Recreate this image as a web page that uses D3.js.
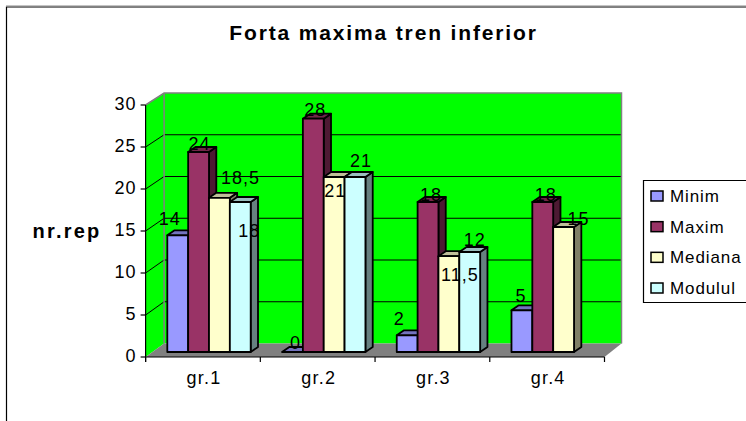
<!DOCTYPE html>
<html><head><meta charset="utf-8">
<script src="https://cdnjs.cloudflare.com/ajax/libs/d3/7.8.5/d3.min.js"></script>
<style>html,body{margin:0;padding:0;background:#fff}svg{display:block}text{font-family:"Liberation Sans",Arial,sans-serif;fill:#000}</style>
</head><body><svg id="c" width="746" height="421"></svg>
<script>
const title = "Forta maxima tren inferior";
const yTitle = "nr.rep";
const categories = ["gr.1", "gr.2", "gr.3", "gr.4"];
const seriesNames = ["Minim", "Maxim", "Mediana", "Modulul"];
const minim = [14, 0, 2, 5];
const maxim = [24, 28, 18, 18];
const mediana = [18.5, 21, 11.5, 15];
const modulul = [18, 21, 12, null];
const yTicks = [0, 5, 10, 15, 20, 25, 30];
const colors = ["#9999ff", "#993366", "#ffffcc", "#ccffff"];
const topColors = ["#7373bf", "#732649", "#bfbf99", "#99bfbf"];
const sideColors = ["#4d4d80", "#4d1a33", "#808066", "#668080"];
// hand-placed label nudges as in the reference, [series][category]
const nudges = [
  [[-8,-10],[3,-3],[-8,-10],[-1,-8]],
  [[1,-2],[2,-3],[3,-1],[3,-1]],
  [[21,-14],[1,20],[11,25],[15,-2]],
  [[9,35],[6,-10],[5,-6],[0,0]]
];
const seriesValues = [minim, maxim, mediana, modulul];

const svg = d3.select("#c");
const frontLeft = 145.6, frontRight = 604.5;
const wallDx = 18.5;
const barDx = 7.3, barDy = -5;

const x = d3.scaleBand().domain(categories).range([frontLeft, frontRight]);
const xs = d3.scaleBand().domain(seriesNames).range([21.7, 105.1]);
const yFront = d3.scaleLinear().domain([0, 30]).range([357, 105]);
const yBack = d3.scaleLinear().domain([0, 30]).range([343.5, 93]);
const yBar = d3.scaleLinear().domain([0, 30]).range([352, 102]);

const poly = pts => pts.map(p => p.join(",")).join(" ");

// chart frame (open on the right and bottom edges where it is cropped)
svg.append("path").attr("d", "M6.5,421V7H746").attr("fill", "none").attr("stroke", "#000").attr("stroke-width", 1.2);
svg.append("line").attr("x1", 6).attr("x2", 746).attr("y1", 6).attr("y2", 6).attr("stroke", "#888").attr("stroke-width", 1);

const bl = frontLeft + wallDx, br = frontRight + wallDx - 1.5;
// walls
svg.append("polygon").attr("fill", "#00ff00").attr("points", poly([[bl, yBack(30)], [br, yBack(30)], [br, yBack(0)], [bl, yBack(0)]]));
svg.append("polygon").attr("fill", "#00ff00").attr("points", poly([[frontLeft, yFront(30)], [bl, yBack(30)], [bl, yBack(0)], [frontLeft, yFront(0)]]));
// floor
svg.append("polygon").attr("fill", "#808080").attr("points", poly([[frontLeft, yFront(0)], [bl, yBack(0)], [br, yBack(0)], [frontRight, yFront(0)]]));
// gridlines
yTicks.filter(v => v > 0 && v < 30).forEach(v => {
  svg.append("line").attr("x1", bl).attr("x2", br).attr("y1", yBack(v)).attr("y2", yBack(v)).attr("stroke", "#000").attr("stroke-width", 1);
  svg.append("line").attr("x1", frontLeft).attr("x2", bl).attr("y1", yFront(v)).attr("y2", yBack(v)).attr("stroke", "#000").attr("stroke-width", 1);
});
// wall edges
svg.append("polyline").attr("fill", "none").attr("stroke", "#808080").attr("stroke-width", 1.5)
  .attr("points", poly([[frontLeft, yFront(30)], [bl, yBack(30)], [br, yBack(30)], [br, yBack(0)]]));
svg.append("line").attr("x1", bl).attr("x2", bl).attr("y1", yBack(30)).attr("y2", yBack(0)).attr("stroke", "#808080").attr("stroke-width", 1.5);

// bars
const barG = svg.append("g").attr("stroke", "#000").attr("stroke-width", 1.8).attr("stroke-linejoin", "round");
categories.forEach((c, ci) => {
  seriesNames.forEach((s, si) => {
    const v = seriesValues[si][ci];
    if (v === null) return;
    const l = x(c) + xs(s), r = l + xs.bandwidth(), t = yBar(v), b = yBar(0);
    barG.append("polygon").attr("fill", sideColors[si]).attr("points", poly([[r, t], [r + barDx, t + barDy], [r + barDx, b + barDy], [r, b]]));
    barG.append("polygon").attr("fill", topColors[si]).attr("points", poly([[l, t], [l + barDx, t + barDy], [r + barDx, t + barDy], [r, t]]));
    if (v > 0) barG.append("rect").attr("x", l).attr("y", t).attr("width", r - l).attr("height", b - t).attr("fill", colors[si]);
  });
});

// axes
const axisG = svg.append("g").attr("stroke", "#000").attr("stroke-width", 1.2);
axisG.append("line").attr("x1", frontLeft).attr("x2", frontLeft).attr("y1", yFront(30)).attr("y2", yFront(0) + 5);
axisG.append("line").attr("x1", frontLeft).attr("x2", frontRight).attr("y1", yFront(0)).attr("y2", yFront(0));
yTicks.forEach(v => {
  axisG.append("line").attr("x1", frontLeft - 5).attr("x2", frontLeft).attr("y1", yFront(v)).attr("y2", yFront(v));
  svg.append("text").attr("x", frontLeft - 9).attr("y", yFront(v) + 5).attr("text-anchor", "end").attr("font-size", 18).attr("letter-spacing", 1).text(v);
});
[...categories.map(c => x(c)), frontRight].forEach(px => {
  axisG.append("line").attr("x1", px).attr("x2", px).attr("y1", yFront(0)).attr("y2", yFront(0) + 5);
});
categories.forEach(c => {
  svg.append("text").attr("x", x(c) + x.bandwidth() / 2 + 1).attr("y", 384).attr("text-anchor", "middle").attr("font-size", 18).attr("letter-spacing", 1.2).text(c);
});

// data labels
seriesNames.forEach((s, si) => categories.forEach((c, ci) => {
  const v = seriesValues[si][ci];
  if (v === null) return;
  const [dx, dy] = nudges[si][ci];
  svg.append("text").attr("x", x(c) + xs(s) + xs.bandwidth() / 2 + dx).attr("y", yBar(v) + dy)
    .attr("text-anchor", "middle").attr("font-size", 18).attr("letter-spacing", 1).text(String(v).replace(".", ","));
}));

// titles
svg.append("text").attr("x", 383.5).attr("y", 40).attr("text-anchor", "middle").attr("font-size", 21).attr("font-weight", "bold").attr("letter-spacing", 1.85).text(title);
svg.append("text").attr("x", 67).attr("y", 238).attr("text-anchor", "middle").attr("font-size", 20).attr("font-weight", "bold").attr("letter-spacing", 2.2).text(yTitle);

// legend
svg.append("path").attr("d", "M746,180.5H643.5V302.5H746").attr("fill", "#fff").attr("stroke", "#000").attr("stroke-width", 1.2);
const ly = d3.scalePoint().domain(seriesNames).range([196, 288]);
seriesNames.forEach((s, si) => {
  svg.append("rect").attr("x", 651).attr("y", ly(s) - 5).attr("width", 12).attr("height", 10).attr("fill", colors[si]).attr("stroke", "#000").attr("stroke-width", 1.5);
  svg.append("text").attr("x", 670).attr("y", ly(s) + 6).attr("font-size", 17).attr("letter-spacing", 0.9).text(s);
});
</script></body></html>
